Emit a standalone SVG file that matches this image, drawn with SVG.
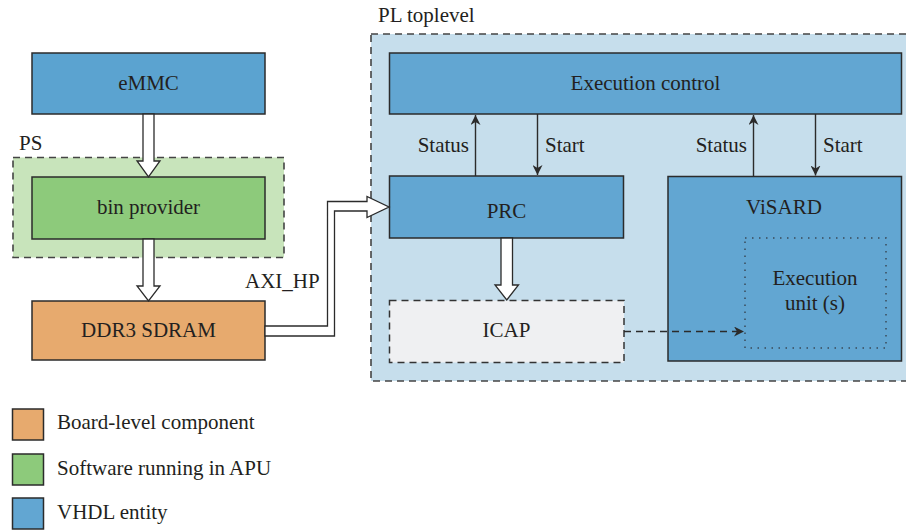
<svg xmlns="http://www.w3.org/2000/svg" width="906" height="531" viewBox="0 0 906 531">
<defs>
<style>
text{font-family:"Liberation Serif","Times New Roman",serif;font-size:21px;fill:#231f20}
.c{text-anchor:middle}
.e{text-anchor:end}
.box{stroke:#2b2b2b;stroke-width:1.5}
.blue{fill:#62a6d2}
.hollow{fill:#ffffff;stroke:#2b2b2b;stroke-width:1.3;stroke-linejoin:miter}
.dash{fill:none;stroke:#444;stroke-width:1.6;stroke-dasharray:7,5}
.thin{stroke:#2b2b2b;stroke-width:1.4;fill:none}
</style>
<marker id="ah" viewBox="0 0 10 10" refX="10" refY="5" markerWidth="10" markerHeight="10" markerUnits="userSpaceOnUse" orient="auto">
<path d="M0,0 L10,5 L0,10 L3,5 z" fill="#2b2b2b"/>
</marker>
</defs>
<rect width="906" height="531" fill="#ffffff"/>

<g id="pl-toplevel">
<rect x="371" y="34" width="545" height="347" fill="#c6deec" stroke="#444" stroke-width="1.6" stroke-dasharray="7,5"/>
<text x="378" y="22">PL toplevel</text>
</g>

<g id="ps">
<rect x="13" y="157.5" width="271" height="100" fill="#c8e4bb" stroke="#444" stroke-width="1.6" stroke-dasharray="7,5"/>
<text x="19" y="150">PS</text>
</g>

<g id="emmc">
<rect class="box" x="32" y="53" width="233" height="61" fill="#5ba3d0"/>
<text class="c" x="148.5" y="90">eMMC</text>
</g>

<g id="bin-provider">
<rect class="box" x="32" y="177" width="233" height="62" fill="#8dca7b"/>
<text class="c" x="148.5" y="214">bin provider</text>
</g>

<g id="ddr3">
<rect class="box" x="32" y="301" width="233" height="59" fill="#e7aa6e"/>
<text class="c" x="148.5" y="337">DDR3 SDRAM</text>
</g>

<g id="exec-control">
<rect class="box blue" x="389.5" y="53" width="512" height="61"/>
<text class="c" x="645.5" y="90">Execution control</text>
</g>

<g id="prc">
<rect class="box blue" x="389.5" y="176" width="234" height="62"/>
<text class="c" x="506.5" y="218">PRC</text>
</g>

<g id="icap">
<rect x="389.5" y="300.5" width="234.5" height="62" fill="#eff0f2" stroke="#333" stroke-width="1.5" stroke-dasharray="7,5"/>
<text class="c" x="506.5" y="337">ICAP</text>
</g>

<g id="visard">
<rect class="box blue" x="668" y="176.5" width="233.5" height="184.5"/>
<text class="c" x="784" y="214">ViSARD</text>
</g>

<g id="execution-unit">
<rect x="745" y="238" width="141" height="110" fill="none" stroke="#3a4a58" stroke-width="1.5" stroke-dasharray="1.5,5.5"/>
<text class="c" x="815" y="285">Execution</text>
<text class="c" x="815" y="310">unit (s)</text>
</g>

<g id="connectors">
<polygon class="hollow" points="143,114 154,114 154,161 160,161 148.5,177 137,161 143,161"/>
<polygon class="hollow" points="143,239 154,239 154,286 160,286 148.5,301 137,286 143,286"/>
<polygon class="hollow" points="501,238 512.5,238 512.5,285 518.5,285 506.75,300 495,285 501,285"/>
<polygon class="hollow" points="265,326 327.5,326 327.5,201.5 367,201.5 367,196.5 389,207 367,217.5 367,211 334.5,211 334.5,336 265,336"/>
<text x="245" y="288">AXI_HP</text>

<line class="thin" x1="475.5" y1="176" x2="475.5" y2="115" marker-end="url(#ah)"/>
<line class="thin" x1="537.5" y1="114" x2="537.5" y2="175" marker-end="url(#ah)"/>
<text class="e" x="469" y="152">Status</text>
<text x="545" y="152">Start</text>

<line class="thin" x1="753.5" y1="176.5" x2="753.5" y2="115" marker-end="url(#ah)"/>
<line class="thin" x1="815.5" y1="114" x2="815.5" y2="175.5" marker-end="url(#ah)"/>
<text class="e" x="747" y="152">Status</text>
<text x="823" y="152">Start</text>

<line x1="624" y1="331.5" x2="744" y2="331.5" stroke="#2b2b2b" stroke-width="1.4" stroke-dasharray="7,5" marker-end="url(#ah)"/>
</g>

<g id="legend">
<rect class="box" x="12.5" y="409" width="31" height="31" fill="#e7aa6e"/>
<text x="57" y="429">Board-level component</text>
<rect class="box" x="12.5" y="454" width="31" height="31" fill="#8dca7b"/>
<text x="57" y="475">Software running in APU</text>
<rect class="box" x="12.5" y="498" width="31" height="31" fill="#62a6d2"/>
<text x="57" y="519">VHDL entity</text>
</g>
</svg>
